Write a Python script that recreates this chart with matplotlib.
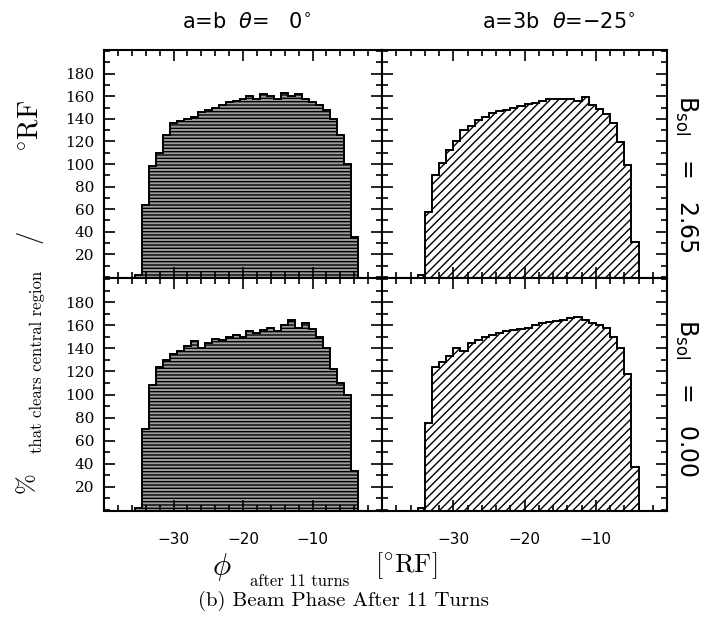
import matplotlib
matplotlib.use("Agg")
from matplotlib import pyplot as plt
from matplotlib.ticker import MultipleLocator, FixedLocator
import numpy as np

# histogram data, % that clears central region / deg RF, 1 deg RF bins
tl_start = -35.5   # a=b, theta=0, Bsol=2.65
tl_counts = [2, 64, 98, 110, 126, 136, 138, 140, 142, 146, 148, 150, 152, 155, 156, 158,
             160, 158, 162, 160, 158, 163, 160, 162, 158, 155, 152, 148, 140, 126, 100, 35]

tr_start = -35.0   # a=3b, theta=-25, Bsol=2.65
tr_counts = [1.5, 57.5, 90.6, 101, 112, 120, 130, 134, 139, 142, 145, 147, 148, 150, 151, 153,
             154, 156, 157.5, 158, 158, 158, 156, 159, 152, 149, 144.5, 136, 119.5, 99, 31]

bl_start = -35.5   # a=b, theta=0, Bsol=0.00
bl_counts = [2, 70, 108, 124, 130, 135, 138, 142, 146, 140, 145, 148, 147, 150, 152, 150,
             155, 153, 156, 158, 155, 160, 165, 158, 162, 157, 150, 140, 122, 110, 100, 34]

br_start = -35.0   # a=3b, theta=-25, Bsol=0.00
br_counts = [1.5, 75, 124, 128, 133, 140, 138, 145, 147, 150, 152, 153, 155, 156, 157, 158,
             160, 162, 163, 164, 165, 166, 167, 165, 162, 160, 158, 150, 140, 118, 37]

col_titles = [r"a=b  $\theta$=   0$^{\circ}$", r"a=3b  $\theta$=$-$25$^{\circ}$"]
row_labels = [r"B$_{\mathrm{sol}}$   =   2.65", r"B$_{\mathrm{sol}}$   =   0.00"]
x_ticks = [-30, -20, -10]
y_ticks = [20, 40, 60, 80, 100, 120, 140, 160, 180]

plt.rcParams["mathtext.fontset"] = "cm"
plt.rcParams["hatch.linewidth"] = 1.0

fig = plt.figure(figsize=(7.04, 6.17), dpi=100)
gs = fig.add_gridspec(2, 2, left=104/704, right=667/704, top=1-50/617, bottom=1-511/617,
                      wspace=0, hspace=0, width_ratios=[278, 285], height_ratios=[228, 233])

panels = [(0, 0, tl_start, tl_counts, "solid"), (0, 1, tr_start, tr_counts, "diag"),
          (1, 0, bl_start, bl_counts, "solid"), (1, 1, br_start, br_counts, "diag")]

for r, c, start, counts, style in panels:
    ax = fig.add_subplot(gs[r, c])
    edges = start + np.arange(len(counts) + 1)
    if style == "solid":
        ax.stairs(counts, edges, fill=True, facecolor="#9c9c9c", edgecolor="black",
                  hatch="-----", linewidth=0)
    else:
        ax.stairs(counts, edges, fill=True, facecolor="white", edgecolor="black",
                  hatch="////", linewidth=0)
    ax.stairs(counts, edges, color="black", linewidth=1.4)

    ax.set_xlim(-40, 0)
    ax.set_ylim(-1, 201)
    ax.xaxis.set_major_locator(FixedLocator(x_ticks))
    ax.xaxis.set_minor_locator(MultipleLocator(2))
    ax.yaxis.set_major_locator(FixedLocator(y_ticks))
    ax.yaxis.set_minor_locator(MultipleLocator(10))
    ax.tick_params(which="both", direction="in", top=True, bottom=True, left=True, right=True,
                   width=1.2, colors="black")
    ax.tick_params(which="major", length=8)
    ax.tick_params(which="minor", length=4)
    ax.tick_params(axis="y", labelsize=11, pad=7)
    ax.tick_params(axis="x", labelsize=11, pad=15)
    for lab in ax.get_yticklabels():
        lab.set_family("DejaVu Serif")
    for s in ax.spines.values():
        s.set_linewidth(1.5)
    if c == 1:
        ax.set_yticklabels([])
    if r == 0:
        ax.set_xticklabels([])

# column titles and row labels
fig.text(247/704, 1-22/617, col_titles[0], fontsize=15, ha="center", va="center",
         math_fontfamily="dejavusans")
fig.text(559/704, 1-22/617, col_titles[1], fontsize=15, ha="center", va="center",
         math_fontfamily="dejavusans")
fig.text(686/704, 1-174/617, row_labels[0], fontsize=17, ha="center", va="center", rotation=-90,
         math_fontfamily="dejavusans")
fig.text(686/704, 1-398/617, row_labels[1], fontsize=17, ha="center", va="center", rotation=-90,
         math_fontfamily="dejavusans")

# y label pieces
fig.text(27/704, 1-483/617, "%", fontsize=18, family="cmr10", ha="center", va="center", rotation=90)
fig.text(37/704, 1-362/617, "that clears central region", fontsize=12, family="cmr10",
         ha="center", va="center", rotation=90)
fig.text(29/704, 1-236/617, "/", fontsize=19, family="cmr10", ha="center", va="center", rotation=90)
fig.text(29/704, 1-126/617, r"$^{\circ}\mathrm{RF}$", fontsize=20, ha="center", va="center",
         rotation=90)

# x label pieces
fig.text(222/704, 1-567/617, r"$\phi$", fontsize=22, ha="center", va="center")
fig.text(300/704, 1-581/617, "after 11 turns", fontsize=12, family="cmr10", ha="center", va="center")
fig.text(406/704, 1-566/617, r"$[^{\circ}\mathrm{RF}]$", fontsize=19, ha="center", va="center")

# caption
fig.text(343/704, 1-601/617, "(b) Beam Phase After 11 Turns", fontsize=15, family="cmr10",
         ha="center", va="center")

fig.savefig("out.png", dpi=100)
